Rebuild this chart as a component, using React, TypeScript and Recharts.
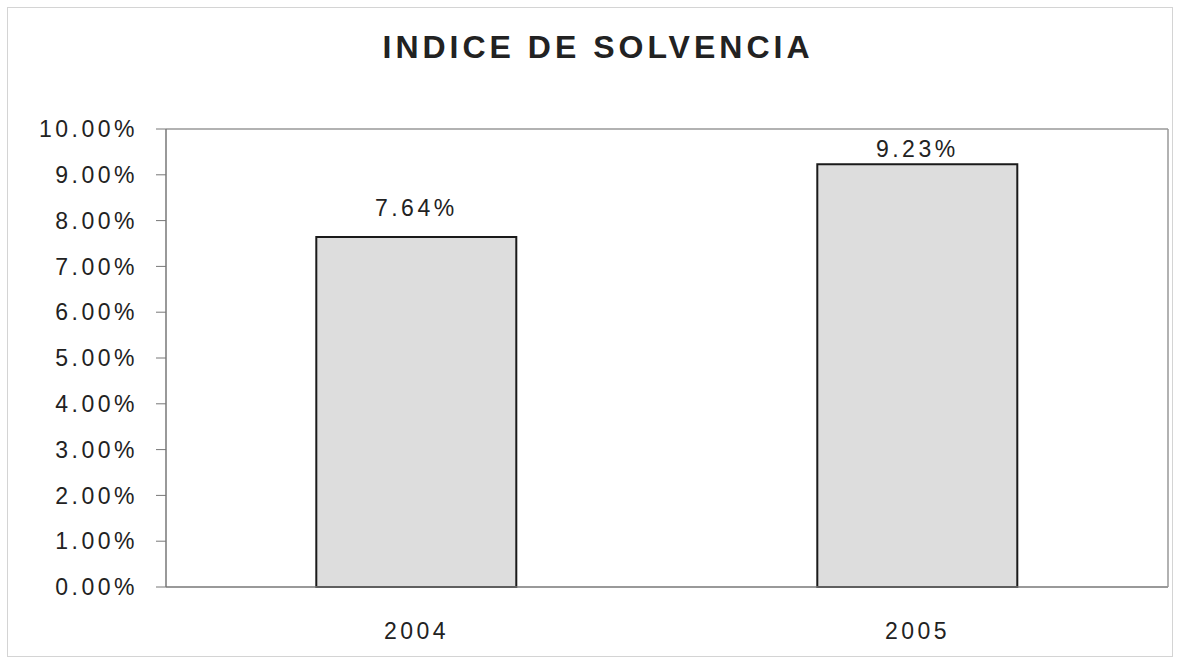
import { BarChart, Bar, XAxis, YAxis, LabelList } from 'recharts'

const years = ['2004', '2005']
const solvencia = [7.64, 9.23]
const yTicks = [0, 1, 2, 3, 4, 5, 6, 7, 8, 9, 10]

const data = years.map((year, i) => ({ year, value: solvencia[i] }))

const font = '"Liberation Sans", Arial, Helvetica, sans-serif'
const pct = (v: number) => `${v.toFixed(2)}%`

const MARGIN_TOP = 120
const PLOT_TOP = MARGIN_TOP + 1

// Excel pushes the label down when it would run into the plot border
function BarLabel(props: any) {
  const { x, y, width, value } = props
  const bottom = Math.max(y - 18, PLOT_TOP + 31)
  return (
    <text
      x={x + width / 2}
      y={bottom - 3}
      textAnchor="middle"
      fill="#222"
      fontSize={23}
      letterSpacing={3.5}
      fontFamily={font}
    >
      {pct(value)}
    </text>
  )
}

export default function App() {
  return (
    <div
      style={{
        position: 'absolute',
        left: 7,
        top: 7,
        width: 1164,
        height: 648,
        border: '1px solid #d4d4d4',
        background: '#fff',
        fontFamily: font,
      }}
    >
      <div
        style={{
          position: 'absolute',
          top: 21,
          left: 8,
          width: '100%',
          textAlign: 'center',
          fontSize: 32,
          fontWeight: 'bold',
          letterSpacing: 4,
          color: '#222',
        }}
      >
        INDICE DE SOLVENCIA
      </div>
      <BarChart
        width={1164}
        height={648}
        data={data}
        margin={{ top: MARGIN_TOP, right: 3, left: 0, bottom: 0 }}
        barCategoryGap="30%"
      >
        <XAxis
          dataKey="year"
          height={69}
          tickLine={false}
          tickMargin={30}
          axisLine={{ stroke: '#777', strokeWidth: 1.5 }}
          tick={{ fill: '#222', fontSize: 23, letterSpacing: 3.5, fontFamily: font }}
        />
        <XAxis
          xAxisId="top"
          orientation="top"
          dataKey="year"
          height={1}
          tick={false}
          tickLine={false}
          axisLine={{ stroke: '#999', strokeWidth: 1.5 }}
        />
        <YAxis
          width={158}
          domain={[0, 10]}
          ticks={yTicks}
          tickFormatter={pct}
          tickSize={10}
          tickMargin={18}
          axisLine={{ stroke: '#777', strokeWidth: 1.5 }}
          tickLine={{ stroke: '#777' }}
          tick={{ fill: '#222', fontSize: 23, letterSpacing: 3.5, fontFamily: font }}
        />
        <YAxis
          yAxisId="right"
          orientation="right"
          width={1}
          domain={[0, 10]}
          tick={false}
          tickLine={false}
          axisLine={{ stroke: '#999', strokeWidth: 1.5 }}
        />
        <Bar
          dataKey="value"
          fill="#dddddd"
          stroke="#1a1a1a"
          strokeWidth={2}
          isAnimationActive={false}
        >
          <LabelList dataKey="value" content={BarLabel} />
        </Bar>
      </BarChart>
    </div>
  )
}
